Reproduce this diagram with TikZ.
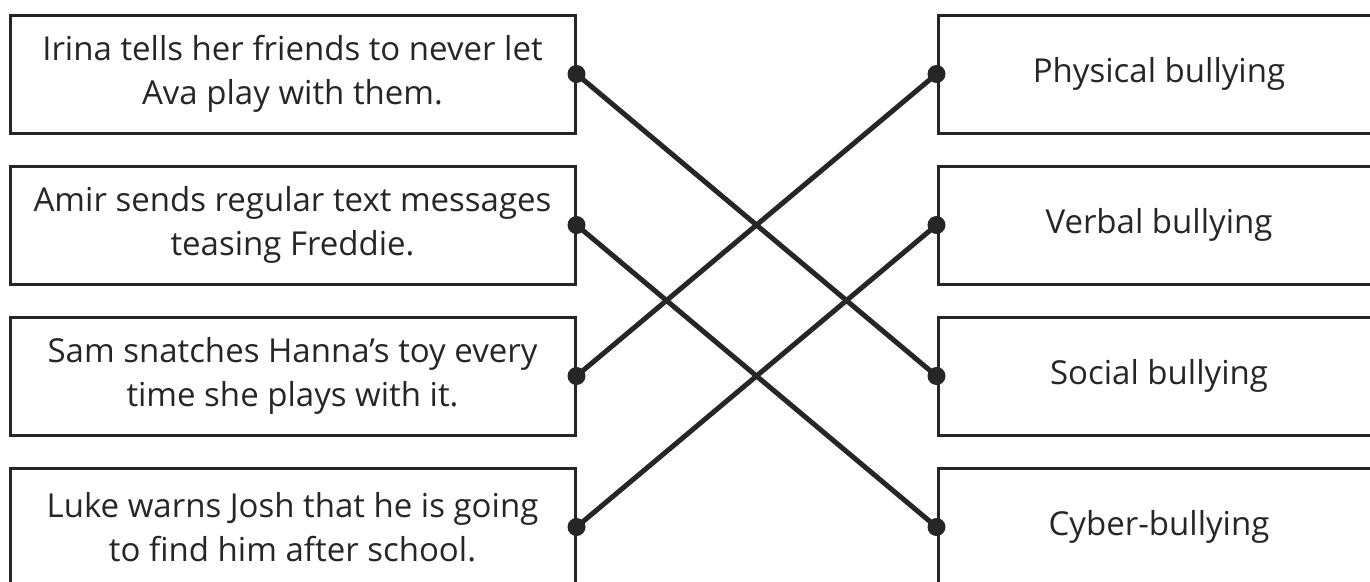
\documentclass[tikz,border=0pt]{standalone}
\usepackage{fontspec}
\setmainfont{Open Sans}
\usetikzlibrary{positioning}
\definecolor{ink}{HTML}{262626}

\tikzset{
    card/.style={draw=ink, line width=3pt, rectangle, minimum height=118pt, inner sep=0pt,
        align=center, text=ink, font=\fontsize{33}{44}\selectfont},
    leftcard/.style={card, minimum width=565pt},
    rightcard/.style={card, minimum width=442pt},
    link/.style={draw=ink, line width=5pt},
}

\begin{document}
\begin{tikzpicture}[x=1pt, y=-1pt]
    \useasboundingbox (0,0) rectangle (1370,581);
    \clip (0,0) rectangle (1370,581);

    % Define nodes
    \node[leftcard] at (292.5, 74) (irina) {Irina tells her friends to never let\\Ava play with them.};
    \node[leftcard] at (292.5, 225) (amir) {Amir sends regular text messages\\teasing Freddie.};
    \node[leftcard] at (292.5, 376) (sam) {Sam snatches Hanna’s toy every\\time she plays with it.};
    \node[leftcard] at (292.5, 527) (luke) {Luke warns Josh that he is going\\to find him after school.};
    \node[rightcard] at (1159, 74) (physical) {Physical bullying};
    \node[rightcard] at (1159, 225) (verbal) {Verbal bullying};
    \node[rightcard] at (1159, 376) (social) {Social bullying};
    \node[rightcard] at (1159, 527) (cyber) {Cyber-bullying};

    % Draw lines
    \draw[link] (irina.east) -- (social.west);
    \draw[link] (amir.east) -- (cyber.west);
    \draw[link] (sam.east) -- (physical.west);
    \draw[link] (luke.east) -- (verbal.west);

    % Dots at the ends
    \foreach \n in {irina, amir, sam, luke}
        \fill[ink] (\n.east) circle (9pt);
    \foreach \n in {physical, verbal, social, cyber}
        \fill[ink] (\n.west) circle (9pt);
\end{tikzpicture}
\end{document}
